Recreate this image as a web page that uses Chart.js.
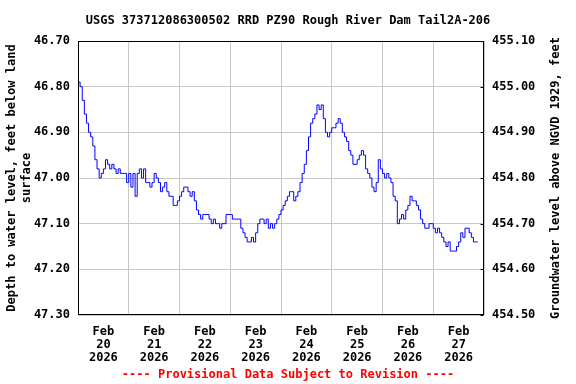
<!DOCTYPE html>
<html><head><meta charset="utf-8">
<script src="https://cdn.jsdelivr.net/npm/chart.js@4"></script>
<style>html,body{margin:0;padding:0;background:#fff}canvas{display:block}</style>
</head><body>
<canvas id="c" width="576" height="384"></canvas>
<script>
const chartTitle = 'USGS 373712086300502 RRD PZ90 Rough River Dam Tail2A-206';
const footerText = '---- Provisional Data Subject to Revision ----';
const leftAxisTitle = ['Depth to water level, feet below land', 'surface'];
const rightAxisTitle = 'Groundwater level above NGVD 1929, feet';
const monthLabel = 'Feb';
const yearLabel = '2026';
const dayLabels = ['20', '21', '22', '23', '24', '25', '26', '27'];
const dayBoundaryHours = [0, 24, 48, 72, 96, 120, 144, 168, 192];
const dayLabelHours = [12, 36, 60, 84, 108, 132, 156, 180];
const depthTicks = [46.70, 46.80, 46.90, 47.00, 47.10, 47.20, 47.30];
const elevTicks = [454.50, 454.60, 454.70, 454.80, 454.90, 455.00, 455.10];

// Hourly depth to water (feet below land surface), starting Feb 20 2026 00:00
const depthFeet = [
  // Feb 20
  46.79, 46.80, 46.83, 46.86, 46.88, 46.90, 46.91, 46.93, 46.96, 46.98, 47.00, 46.99,
  46.98, 46.96, 46.97, 46.98, 46.97, 46.98, 46.99, 46.98, 46.99, 46.99, 46.99, 47.01,
  // Feb 21
  46.99, 47.02, 46.99, 47.04, 46.99, 46.98, 47.00, 46.98, 47.01, 47.01, 47.02, 47.01,
  46.99, 47.00, 47.01, 47.03, 47.02, 47.01, 47.03, 47.04, 47.04, 47.06, 47.06, 47.05,
  // Feb 22
  47.04, 47.03, 47.02, 47.02, 47.03, 47.04, 47.03, 47.05, 47.07, 47.08, 47.09, 47.08,
  47.08, 47.08, 47.09, 47.10, 47.09, 47.10, 47.10, 47.11, 47.10, 47.10, 47.08, 47.08,
  // Feb 23
  47.08, 47.09, 47.09, 47.09, 47.09, 47.11, 47.12, 47.13, 47.14, 47.14, 47.13, 47.14,
  47.12, 47.10, 47.09, 47.09, 47.10, 47.09, 47.11, 47.10, 47.11, 47.10, 47.09, 47.08,
  // Feb 24
  47.07, 47.06, 47.05, 47.04, 47.03, 47.03, 47.05, 47.04, 47.03, 47.01, 46.99, 46.97,
  46.94, 46.91, 46.88, 46.87, 46.86, 46.84, 46.85, 46.84, 46.87, 46.90, 46.91, 46.90,
  // Feb 25
  46.89, 46.89, 46.88, 46.87, 46.88, 46.90, 46.91, 46.92, 46.94, 46.95, 46.97, 46.97,
  46.96, 46.95, 46.94, 46.95, 46.98, 46.99, 47.00, 47.02, 47.03, 47.01, 46.96, 46.98,
  // Feb 26
  46.99, 47.00, 46.99, 47.00, 47.01, 47.04, 47.05, 47.10, 47.09, 47.08, 47.09, 47.07,
  47.06, 47.04, 47.05, 47.05, 47.06, 47.07, 47.09, 47.10, 47.11, 47.11, 47.10, 47.10,
  // Feb 27
  47.11, 47.12, 47.11, 47.12, 47.13, 47.14, 47.15, 47.14, 47.16, 47.16, 47.16, 47.15,
  47.14, 47.12, 47.13, 47.11, 47.11, 47.12, 47.13, 47.14, 47.14, 47.14
];

const FONT = "'DejaVu Sans Mono', 'Liberation Mono', monospace";

const framePlugin = {
  id: 'frame',
  afterDatasetsDraw(chart) {
    const {ctx, chartArea: a} = chart;
    ctx.save();
    ctx.strokeStyle = '#000';
    ctx.lineWidth = 1;
    const l = Math.round(a.left) + 0.5, t = Math.round(a.top) + 0.5;
    const r = Math.round(a.right) - 0.5, b = Math.round(a.bottom) - 0.5;
    ctx.strokeRect(l, t, r - l, b - t);
    // right-axis small tick marks (inside)
    const y2 = chart.scales.y2;
    ctx.beginPath();
    elevTicks.forEach(v => {
      const y = Math.round(y2.getPixelForValue(v)) + 0.5;
      ctx.moveTo(r - 3, y);
      ctx.lineTo(r, y);
    });
    ctx.stroke();
    // right axis title, reading bottom-to-top
    ctx.fillStyle = '#000';
    ctx.font = 'bold 12px ' + FONT;
    ctx.textAlign = 'center';
    ctx.textBaseline = 'middle';
    ctx.translate(556, (a.top + a.bottom) / 2);
    ctx.rotate(-Math.PI / 2);
    ctx.fillText(rightAxisTitle, 0, 0);
    ctx.restore();
  }
};

new Chart(document.getElementById('c'), {
  type: 'line',
  data: {
    datasets: [{
      data: depthFeet.map((v, i) => ({x: i, y: v})),
      borderColor: '#0000ff',
      borderWidth: 1,
      pointRadius: 0,
      stepped: true,
      fill: false,
      xAxisID: 'x',
      yAxisID: 'y'
    }]
  },
  options: {
    responsive: false,
    animation: false,
    events: [],
    layout: {padding: 0},
    plugins: {
      legend: {display: false},
      tooltip: {enabled: false},
      title: {
        display: true, text: chartTitle, color: '#000',
        font: {family: FONT, size: 12, weight: 'bold', lineHeight: 1.2},
        padding: {top: 14, bottom: 12.6}
      },
      subtitle: {
        display: true, position: 'bottom', text: footerText, color: '#ff0000',
        font: {family: FONT, size: 12, weight: 'bold', lineHeight: 1.2},
        padding: {top: 5, bottom: 2}
      }
    },
    scales: {
      x: {
        type: 'linear', position: 'bottom', min: 0, max: 192,
        afterBuildTicks: s => { s.ticks = dayBoundaryHours.concat(dayLabelHours).sort((a, b) => a - b).map(v => ({value: v})); },
        afterFit: s => { s.height = 47.6; },
        grid: {
          drawTicks: false, lineWidth: 1,
          color: c => (c.tick && dayBoundaryHours.includes(c.tick.value)) ? '#c8c8c8' : 'rgba(0,0,0,0)'
        },
        border: {display: false},
        ticks: {
          autoSkip: false, maxRotation: 0, minRotation: 0, padding: 10.5, color: '#000',
          font: {family: FONT, size: 12, weight: 'bold', lineHeight: 1.0833},
          callback: v => {
            const k = dayLabelHours.indexOf(v);
            return k >= 0 ? [monthLabel, dayLabels[k], yearLabel] : '';
          }
        }
      },
      y: {
        type: 'linear', position: 'left', reverse: true, min: 46.70, max: 47.30,
        afterBuildTicks: s => { s.ticks = depthTicks.map(v => ({value: v})); },
        afterFit: s => { s.width = 78; },
        grid: {drawTicks: false, color: '#c8c8c8', lineWidth: 1},
        border: {display: false},
        ticks: {
          padding: 8, color: '#000',
          font: {family: FONT, size: 12, weight: 'bold'},
          callback: v => Number(v).toFixed(2)
        },
        title: {
          display: true, text: leftAxisTitle, color: '#000',
          font: {family: FONT, size: 12, weight: 'bold', lineHeight: 1.25},
          padding: {top: 4.5, bottom: 0}
        }
      },
      y2: {
        type: 'linear', position: 'right', min: 454.50, max: 455.10,
        afterBuildTicks: s => { s.ticks = elevTicks.map(v => ({value: v})); },
        afterFit: s => { s.width = 92; },
        grid: {display: false, drawTicks: false},
        border: {display: false},
        ticks: {
          padding: 8, color: '#000',
          font: {family: FONT, size: 12, weight: 'bold'},
          callback: v => Number(v).toFixed(2)
        }
      }
    }
  },
  plugins: [framePlugin]
});
</script>
</body></html>
